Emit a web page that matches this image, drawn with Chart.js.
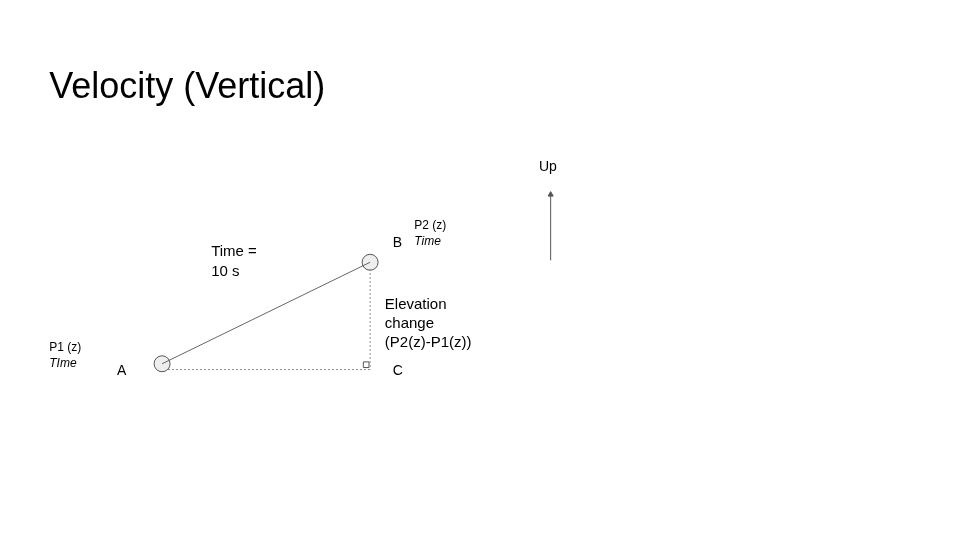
<!DOCTYPE html>
<html>
<head>
<meta charset="utf-8">
<script src="https://cdn.jsdelivr.net/npm/chart.js@4"></script>
<style>
html, body { margin: 0; padding: 0; background: #fff; }
canvas { display: block; }
</style>
</head>
<body>
<canvas id="myChart" width="960" height="540"></canvas>
<script>
// diagram points, in slide units (x right, y down)
const pointA = { x: 156, y: 367 };
const pointB = { x: 368, y: 262 };
const pointC = { x: 368, y: 373 };
const hypotenuse = [pointA, pointB];
const baseLine = [{ x: 162, y: 373 }, pointC];
const riseLine = [{ x: 368, y: 269 }, pointC];
const rightAngle = [{ x: 364, y: 368 }];
const upArrow = [{ x: 552, y: 260 }, { x: 552, y: 191 }];
const arrowHead = [{ x: 552, y: 192 }];

const labels = [
  { text: 'Velocity (Vertical)', x: 41, y: 92, size: 36, italic: false },
  { text: 'Up', x: 540, y: 168, size: 14, italic: false },
  { text: 'P2 (z)', x: 413, y: 228, size: 12, italic: false },
  { text: 'Time', x: 413, y: 244, size: 12, italic: true },
  { text: 'B', x: 391, y: 246, size: 14, italic: false },
  { text: 'Time =', x: 206, y: 256, size: 15, italic: false },
  { text: '10 s', x: 206, y: 276, size: 15, italic: false },
  { text: 'Elevation', x: 383, y: 310, size: 15, italic: false },
  { text: 'change', x: 383, y: 330, size: 15, italic: false },
  { text: '(P2(z)-P1(z))', x: 383, y: 350, size: 15, italic: false },
  { text: 'P1 (z)', x: 41, y: 354, size: 12, italic: false },
  { text: 'TIme', x: 41, y: 370, size: 12, italic: true },
  { text: 'A', x: 110, y: 379, size: 14, italic: false },
  { text: 'C', x: 391, y: 379, size: 14, italic: false }
];

const textPlugin = {
  id: 'slideText',
  afterDatasetsDraw(chart) {
    const ctx = chart.ctx;
    const xs = chart.scales.x, ys = chart.scales.y;
    ctx.save();
    ctx.fillStyle = '#000';
    ctx.textBaseline = 'alphabetic';
    labels.forEach(l => {
      ctx.font = (l.italic ? 'italic ' : '') + l.size + 'px "Liberation Sans", Arial, sans-serif';
      ctx.fillText(l.text, xs.getPixelForValue(l.x), ys.getPixelForValue(l.y));
    });
    ctx.restore();
  }
};

new Chart(document.getElementById('myChart'), {
  type: 'scatter',
  data: {
    datasets: [
      { data: baseLine, showLine: true, borderColor: '#888', borderWidth: 1, borderDash: [2, 2], pointRadius: 0 },
      { data: riseLine, showLine: true, borderColor: '#888', borderWidth: 1, borderDash: [2, 2], pointRadius: 0 },
      { data: hypotenuse, showLine: true, borderColor: '#666', borderWidth: 1, pointRadius: 0 },
      { data: [pointA, pointB], pointRadius: 8, pointBackgroundColor: '#eeeeee', pointBorderColor: '#555', pointBorderWidth: 1 },
      { data: rightAngle, pointStyle: 'rect', pointRadius: 4, pointBackgroundColor: '#fff', pointBorderColor: '#555', pointBorderWidth: 1 },
      { data: upArrow, showLine: true, borderColor: '#555', borderWidth: 1, pointRadius: 0 },
      { data: arrowHead, pointStyle: 'triangle', pointRadius: 3, pointBackgroundColor: '#555', pointBorderColor: '#555' }
    ]
  },
  options: {
    responsive: false,
    animation: false,
    layout: { padding: 0 },
    plugins: { legend: { display: false }, tooltip: { enabled: false } },
    scales: {
      x: { type: 'linear', min: 0, max: 960, display: false },
      y: { type: 'linear', min: 0, max: 540, reverse: true, display: false }
    }
  },
  plugins: [textPlugin]
});
</script>
</body>
</html>
